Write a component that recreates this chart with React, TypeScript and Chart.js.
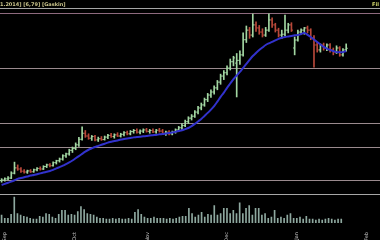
import React, { useEffect, useRef } from 'react';
import { Chart, registerables } from 'chart.js';

Chart.register(...registerables);

const opens = [1.98,2.00,2.04,2.07,2.25,2.44,2.40,2.32,2.29,2.33,2.30,2.37,2.42,2.40,2.49,2.55,2.52,2.63,2.70,2.76,2.88,2.95,3.08,3.15,3.28,3.48,3.70,3.60,3.52,3.58,3.46,3.50,3.47,3.56,3.62,3.58,3.64,3.60,3.66,3.72,3.68,3.76,3.80,3.74,3.78,3.82,3.77,3.80,3.75,3.81,3.78,3.70,3.74,3.68,3.75,3.82,3.90,3.98,4.12,4.25,4.32,4.47,4.62,4.73,4.92,5.09,5.20,5.35,5.56,5.78,5.90,6.07,6.30,6.25,6.35,6.55,7.10,7.45,7.27,7.64,7.53,7.38,7.27,7.45,7.82,7.64,7.45,7.27,7.30,7.45,7.64,6.80,7.09,7.38,7.45,7.53,7.45,7.16,6.91,6.73,6.91,6.80,6.91,6.73,6.65,6.80,6.55,6.73];
const highs = [2.05,2.08,2.12,2.30,2.65,2.55,2.45,2.38,2.36,2.38,2.40,2.45,2.48,2.52,2.58,2.60,2.66,2.72,2.80,2.92,2.98,3.12,3.20,3.35,3.55,3.93,3.80,3.68,3.62,3.62,3.56,3.58,3.60,3.66,3.70,3.68,3.72,3.70,3.76,3.78,3.80,3.84,3.86,3.82,3.86,3.88,3.84,3.86,3.84,3.88,3.84,3.78,3.80,3.78,3.86,3.95,4.05,4.18,4.30,4.38,4.52,4.68,4.80,4.98,5.15,5.28,5.42,5.62,5.85,5.98,6.15,6.40,6.50,6.60,6.70,7.35,7.60,7.55,8.04,7.75,7.62,7.50,7.55,8.04,7.90,7.70,7.52,7.45,8.00,7.70,7.72,7.20,7.45,7.50,7.55,7.60,7.50,7.25,7.00,6.95,6.98,6.95,6.96,6.80,6.88,6.85,6.78,6.95];
const lows = [1.92,1.96,2.00,2.05,2.22,2.35,2.28,2.25,2.24,2.27,2.28,2.33,2.36,2.38,2.45,2.48,2.50,2.58,2.65,2.72,2.82,2.90,3.00,3.10,3.22,3.45,3.55,3.48,3.44,3.42,3.40,3.44,3.45,3.50,3.55,3.52,3.58,3.56,3.60,3.64,3.64,3.70,3.70,3.68,3.72,3.74,3.70,3.72,3.70,3.74,3.66,3.62,3.64,3.64,3.70,3.78,3.84,3.94,4.05,4.18,4.28,4.40,4.55,4.68,4.85,5.00,5.12,5.28,5.48,5.65,5.82,6.00,6.15,5.02,6.20,6.50,7.00,7.15,7.20,7.40,7.30,7.20,7.22,7.40,7.55,7.38,7.20,7.15,7.25,7.35,7.40,6.55,7.05,7.30,7.30,7.35,7.10,6.10,6.65,6.65,6.72,6.70,6.65,6.55,6.60,6.50,6.50,6.68];
const closes = [2.00,2.04,2.07,2.25,2.44,2.40,2.32,2.29,2.33,2.30,2.37,2.42,2.40,2.49,2.55,2.52,2.63,2.70,2.76,2.88,2.95,3.08,3.15,3.28,3.48,3.70,3.60,3.52,3.58,3.46,3.50,3.47,3.56,3.62,3.58,3.64,3.60,3.66,3.72,3.68,3.76,3.80,3.74,3.78,3.82,3.77,3.80,3.75,3.81,3.78,3.70,3.74,3.68,3.75,3.82,3.90,3.98,4.12,4.25,4.32,4.47,4.62,4.73,4.92,5.09,5.20,5.35,5.56,5.78,5.90,6.07,6.30,6.44,6.35,6.55,7.10,7.45,7.27,7.64,7.53,7.38,7.27,7.45,7.82,7.64,7.45,7.27,7.30,7.45,7.64,7.45,7.09,7.38,7.45,7.53,7.45,7.16,6.91,6.73,6.91,6.80,6.91,6.73,6.65,6.80,6.55,6.73,6.79];
const maValues = [1.82,1.86,1.90,1.94,1.99,2.04,2.07,2.10,2.13,2.16,2.18,2.21,2.24,2.27,2.30,2.33,2.37,2.42,2.47,2.52,2.58,2.64,2.71,2.79,2.87,2.95,3.03,3.10,3.15,3.20,3.24,3.28,3.32,3.36,3.39,3.42,3.44,3.47,3.49,3.51,3.53,3.55,3.56,3.57,3.59,3.60,3.62,3.63,3.64,3.66,3.67,3.69,3.71,3.73,3.75,3.78,3.81,3.85,3.89,3.96,4.04,4.13,4.22,4.33,4.44,4.56,4.69,4.85,5.02,5.18,5.35,5.51,5.67,5.80,5.93,6.08,6.22,6.37,6.51,6.62,6.73,6.82,6.91,6.97,7.02,7.08,7.13,7.17,7.20,7.22,7.24,7.26,7.27,7.31,7.35,7.28,7.20,7.11,7.02,6.93,6.84,6.78,6.73,6.69,6.65,6.65,6.65,6.69];
const volumes = [2.8,1.7,1.7,3.1,9.3,3.4,2.8,2.4,2.1,1.7,1.4,1.4,2.4,2.1,3.4,3.1,2.1,1.7,3.1,4.5,4.5,2.8,3.1,2.8,4.1,5.9,4.8,3.4,3.1,2.8,2.1,1.7,1.7,1.4,1.4,1.7,1.4,1.7,1.4,1.4,1.7,1.4,3.8,4.8,3.1,2.1,1.7,1.7,2.1,1.7,1.7,1.7,1.4,1.7,1.4,1.7,2.1,2.4,2.4,5.2,3.4,2.1,2.8,3.8,2.1,3.1,2.8,6.2,2.8,3.4,5.2,5.2,3.4,4.5,3.4,7.2,3.4,5.2,6.2,2.8,5.2,5.2,2.8,3.4,1.7,2.1,4.5,1.7,2.1,1.7,2.8,3.4,1.7,1.7,2.1,1.4,2.4,1.4,1.4,1.0,1.4,1.0,1.4,1.7,1.4,1.0,1.4,1.4];
const levelLines = [8.04, 6.04, 4.07, 3.2, 2.0];
const monthTicks = ['Sep', 'Oct', 'Nov', 'Dec', 'Jan', 'Feb'];
const monthTickIndex = [1, 23, 46, 71, 93, 115];
const slotCount = 118;
const titleLeft = '1.2014] [6,79] [Gaskin]';
const titleRight = 'Fil';

const UP = '#a2d6a2';
const DOWN = '#b8483a';

export default function App() {
  const priceRef = useRef<HTMLCanvasElement>(null);
  const volRef = useRef<HTMLCanvasElement>(null);

  useEffect(() => {
    document.body.style.margin = '0';
    document.body.style.background = '#000';
    const labels = Array.from({ length: slotCount }, (_, i) => {
      const k = monthTickIndex.indexOf(i);
      return k >= 0 ? monthTicks[k] : '';
    });
    const colors = closes.map((c, i) => (c >= opens[i] ? UP : DOWN));

    const price = new Chart(priceRef.current as HTMLCanvasElement, {
      type: 'bar',
      data: {
        labels,
        datasets: [
          { type: 'line', data: maValues, borderColor: '#3232cc', borderWidth: 2, pointRadius: 0, tension: 0.3, order: 0 } as any,
          { type: 'bar', data: lows.map((l, i) => [l, highs[i]]), backgroundColor: colors, barThickness: 1, borderWidth: 0, order: 3 } as any,
          { type: 'line', data: opens, showLine: false, pointStyle: 'dash', rotation: 180, pointRadius: 1.6, pointBorderWidth: 1, pointBorderColor: colors, pointBackgroundColor: colors, order: 2 } as any,
          { type: 'line', data: closes, showLine: false, pointStyle: 'dash', rotation: 0, pointRadius: 1.6, pointBorderWidth: 1, pointBorderColor: colors, pointBackgroundColor: colors, order: 1 } as any,
        ],
      },
      options: {
        animation: false,
        responsive: false,
        maintainAspectRatio: false,
        events: [],
        layout: { autoPadding: false, padding: { top: 8, left: 0, right: 0, bottom: 0 } },
        plugins: { legend: { display: false }, tooltip: { enabled: false }, title: { display: false } },
        scales: {
          x: { display: false, offset: true },
          y: {
            min: 1.491,
            max: 8.2545,
            position: 'right',
            border: { display: false },
            ticks: { display: false },
            grid: {
              drawTicks: false,
              lineWidth: 1,
              color: (ctx: any) => (ctx.tick && ctx.tick.value === levelLines[0] ? '#8e6a7e' : '#9a8a8e'),
            },
            afterBuildTicks: (s: any) => {
              s.ticks = levelLines.map((v) => ({ value: v }));
            },
          } as any,
        },
      } as any,
    });

    const vol = new Chart(volRef.current as HTMLCanvasElement, {
      type: 'bar',
      data: {
        labels,
        datasets: [{ data: volumes, backgroundColor: '#8ea89f', barThickness: 1, borderWidth: 0 }],
      },
      options: {
        animation: false,
        responsive: false,
        maintainAspectRatio: false,
        events: [],
        layout: { autoPadding: false, padding: 0 },
        plugins: { legend: { display: false }, tooltip: { enabled: false } },
        scales: {
          x: {
            offset: true,
            grid: { display: false },
            border: { display: false },
            ticks: {
              autoSkip: false,
              minRotation: 90,
              maxRotation: 90,
              color: '#c8c8c8',
              padding: 1,
              font: { size: 5, family: 'DejaVu Sans' },
            },
            afterFit: (s: any) => {
              s.height = 17;
            },
          } as any,
          y: { display: false, min: 0, max: 10 },
        },
      } as any,
    });

    return () => {
      price.destroy();
      vol.destroy();
    };
  }, []);

  return (
    <div style={{ position: 'fixed', left: 0, top: 0, width: 380, height: 240, background: '#000', overflow: 'hidden' }}>
      <canvas ref={priceRef} width={380} height={194} style={{ position: 'absolute', left: 0, top: 0, width: 380, height: 194 }} />
      <div style={{ position: 'absolute', left: 0, top: 8, width: 380, height: 1, background: '#a6a6a6' }} />
      <div style={{ position: 'absolute', left: 0, top: 194, width: 380, height: 1, background: '#a6a6a6' }} />
      <canvas ref={volRef} width={380} height={45} style={{ position: 'absolute', left: 0, top: 195, width: 380, height: 45 }} />
      <span style={{ position: 'absolute', left: 0, top: 1, font: 'bold 5px "DejaVu Sans"', color: '#c8c28a', whiteSpace: 'nowrap', lineHeight: '6px' }}>{titleLeft}</span>
      <span style={{ position: 'absolute', left: 372, top: 1, font: 'bold 5px "DejaVu Sans"', color: '#d8de70', whiteSpace: 'nowrap', lineHeight: '6px' }}>{titleRight}</span>
    </div>
  );
}
